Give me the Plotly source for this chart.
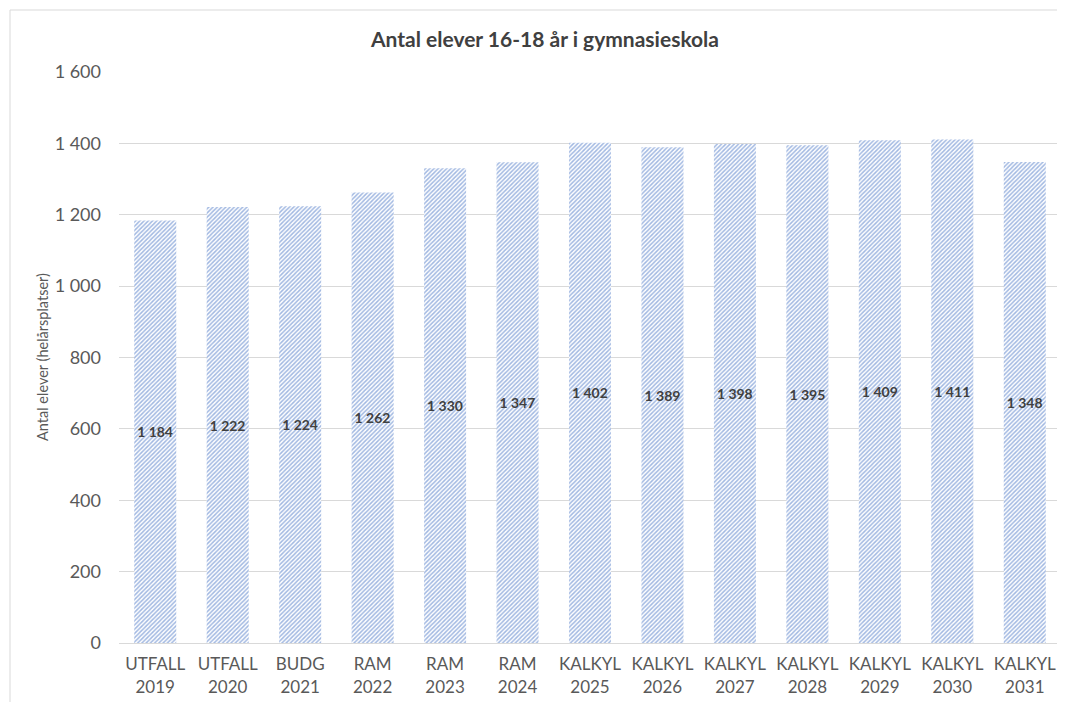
import plotly.graph_objects as go

categories = ["UTFALL<br>2019", "UTFALL<br>2020", "BUDG<br>2021", "RAM<br>2022", "RAM<br>2023", "RAM<br>2024",
              "KALKYL<br>2025", "KALKYL<br>2026", "KALKYL<br>2027", "KALKYL<br>2028", "KALKYL<br>2029",
              "KALKYL<br>2030", "KALKYL<br>2031"]
values = [1184, 1222, 1224, 1262, 1330, 1347, 1402, 1389, 1398, 1395, 1409, 1411, 1348]
tick_vals = [0, 200, 400, 600, 800, 1000, 1200, 1400, 1600]
tick_text = [f"{v:,}".replace(",", " ") for v in tick_vals]
labels = [f"{v:,}".replace(",", " ") for v in values]

FONT = "Lato"
W, H = 1065, 702
OFF = 8  # page body margin offset
L, R, T, B = 119 - OFF, 4 + OFF, 72 - OFF, 59 + OFF
pw, ph = W - L - R, H - T - B

fig = go.Figure()
fig.add_trace(go.Bar(
    x=categories, y=values, text=labels,
    textposition="inside", insidetextanchor="middle", textangle=0,
    textfont=dict(family=FONT, size=15, color="#404040", weight="bold"),
    marker=dict(color="white", line=dict(width=0),
                pattern=dict(shape="/", fgcolor="#4472C4", bgcolor="white", size=3, solidity=0.5)),
    width=0.58, cliponaxis=False,
))

fig.update_layout(
    width=W, height=H,
    margin=dict(l=L, r=R, t=T, b=B),
    paper_bgcolor="white", plot_bgcolor="white",
    showlegend=False,
    title=dict(text="<b>Antal elever 16-18 år i gymnasieskola</b>", x=(545 - OFF) / W, xanchor="center",
               y=1 - (40 - OFF) / H, yanchor="middle", font=dict(family=FONT, size=21, color="#404040")),
    xaxis=dict(showgrid=False, showline=True, linecolor="#d9d9d9", linewidth=1, ticks="",
               ticklabelstandoff=6,
               tickfont=dict(family=FONT, size=17, color="#595959")),
    yaxis=dict(range=[0, 1600], tickvals=tick_vals, ticktext=tick_text, showgrid=True,
               gridcolor="#d9d9d9", gridwidth=1, zeroline=False, showline=False, ticks="",
               ticklabelstandoff=17,
               tickfont=dict(family=FONT, size=18, color="#595959")),
    annotations=[dict(text="Antal elever (helårsplatser)", textangle=-90, xref="paper", yref="paper",
                      x=(42 - OFF - L) / pw, y=(H - B - (357 - OFF)) / ph, showarrow=False,
                      xanchor="center", yanchor="middle",
                      font=dict(family=FONT, size=14.5, color="#595959"))],
    shapes=[dict(type="rect", xref="paper", yref="paper",
                 x0=(10 - OFF - L) / pw, x1=(W + 20 - L) / pw,
                 y0=-(B + 20) / ph, y1=1 + (T - (10 - OFF)) / ph,
                 line=dict(color="#d9d9d9", width=1), fillcolor="rgba(0,0,0,0)", layer="below")],
)

fig.write_html("out.html")
